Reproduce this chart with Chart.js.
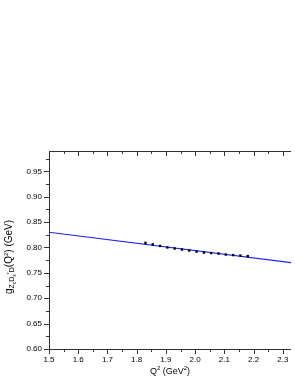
<!DOCTYPE html>
<html>
<head>
<meta charset="utf-8">
<script src="https://cdn.jsdelivr.net/npm/chart.js@4"></script>
<style>
  html, body { margin: 0; padding: 0; background: #fff; }
  #wrap { width: 295px; height: 382px; position: relative; }
</style>
</head>
<body>
<div id="wrap"><canvas id="chart"></canvas></div>
<script>
// data
const q2Points = [1.83, 1.855, 1.88, 1.905, 1.93, 1.955, 1.98, 2.005, 2.03, 2.055, 2.08, 2.105, 2.13, 2.155, 2.18];
const gPoints = [0.809, 0.806, 0.803, 0.800, 0.798, 0.796, 0.794, 0.792, 0.790, 0.789, 0.788, 0.786, 0.785, 0.784, 0.783];
const fitQ2 = [1.5, 2.33];
const fitG = [0.830, 0.7698];
const xTicks = [1.5, 1.6, 1.7, 1.8, 1.9, 2.0, 2.1, 2.2, 2.3];
const yTicks = [0.60, 0.65, 0.70, 0.75, 0.80, 0.85, 0.90, 0.95];

const X_MIN = 1.5, X_MAX = 2.328;
const Y_MIN = 0.60, Y_MAX = 0.99;
const AXIS = '#333';
const FONT = '"Liberation Sans", Arial, sans-serif';

// draws Origin-style axes, ticks, labels and titles
const axesPlugin = {
    id: 'originAxes',
    afterDraw(chart) {
        const ctx = chart.ctx;
        const { left, right, top, bottom } = chart.chartArea;
        const xs = chart.scales.x, ys = chart.scales.y;
        ctx.save();
        ctx.strokeStyle = AXIS;
        ctx.lineWidth = 1;

        // frame: left, bottom, top (right edge is cut off)
        ctx.beginPath();
        ctx.moveTo(left + 0.5, top);
        ctx.lineTo(left + 0.5, bottom + 0.5);
        ctx.lineTo(right, bottom + 0.5);
        ctx.moveTo(left, top + 0.5);
        ctx.lineTo(right, top + 0.5);
        ctx.stroke();

        const xMinor = [];
        for (let i = 0; i < xTicks.length; i++) {
            const m = xTicks[i] + 0.05;
            if (m <= X_MAX) xMinor.push(m);
        }
        const yMinor = [];
        for (let i = 0; i < yTicks.length; i++) {
            const m = yTicks[i] + 0.025;
            if (m <= Y_MAX) yMinor.push(m);
        }

        ctx.beginPath();
        xTicks.forEach(v => {
            const px = Math.round(xs.getPixelForValue(v)) + 0.5;
            ctx.moveTo(px, bottom); ctx.lineTo(px, bottom + 5);
            ctx.moveTo(px, top); ctx.lineTo(px, top + 5);
        });
        xMinor.forEach(v => {
            const px = Math.round(xs.getPixelForValue(v)) + 0.5;
            ctx.moveTo(px, bottom); ctx.lineTo(px, bottom + 3);
            ctx.moveTo(px, top); ctx.lineTo(px, top + 3);
        });
        yTicks.forEach(v => {
            const py = Math.round(ys.getPixelForValue(v)) + 0.5;
            ctx.moveTo(left, py); ctx.lineTo(left - 5, py);
        });
        yMinor.forEach(v => {
            const py = Math.round(ys.getPixelForValue(v)) + 0.5;
            ctx.moveTo(left, py); ctx.lineTo(left - 3, py);
        });
        ctx.stroke();

        // tick labels
        ctx.fillStyle = '#000';
        ctx.font = '8px ' + FONT;
        ctx.textAlign = 'center';
        ctx.textBaseline = 'alphabetic';
        xTicks.forEach(v => ctx.fillText(v.toFixed(1), xs.getPixelForValue(v), bottom + 13));
        ctx.textAlign = 'right';
        ctx.textBaseline = 'middle';
        yTicks.forEach(v => ctx.fillText(v.toFixed(2), left - 7, ys.getPixelForValue(v)));

        // titles with sub/superscripts
        const parts = (list, base) => list.map(p => Object.assign({ dy: 0, size: base }, p));
        const drawRich = (items, cx, cy) => {
            let w = 0;
            items.forEach(it => { ctx.font = it.size + 'px ' + FONT; it.w = ctx.measureText(it.t).width; w += it.w; });
            let x = cx - w / 2;
            ctx.textAlign = 'left';
            ctx.textBaseline = 'alphabetic';
            items.forEach(it => {
                ctx.font = it.size + 'px ' + FONT;
                ctx.fillText(it.t, x, cy + it.dy);
                x += it.w;
            });
        };

        drawRich(parts([
            { t: 'Q' }, { t: '2', size: 6, dy: -4 },
            { t: ' (GeV' }, { t: '2', size: 6, dy: -4 }, { t: ')' }
        ], 9), (left + right) / 2, bottom + 25);

        ctx.save();
        ctx.translate(12, 257);
        ctx.rotate(-Math.PI / 2);
        drawRich(parts([
            { t: 'g' },
            { t: 'Z', size: 7, dy: 2 }, { t: 'c', size: 5, dy: 4 },
            { t: 'D', size: 7, dy: 2 }, { t: 's', size: 5, dy: 4 }, { t: '*', size: 5, dy: -1 },
            { t: 'D', size: 7, dy: 2 },
            { t: '(Q' }, { t: '2', size: 6, dy: -4 }, { t: ') (GeV)' }
        ], 10), 0, 0);
        ctx.restore();

        ctx.restore();
    }
};

new Chart(document.getElementById('chart'), {
    type: 'scatter',
    data: {
        datasets: [
            {
                type: 'line',
                label: 'fit',
                data: fitQ2.map((x, i) => ({ x, y: fitG[i] })),
                borderColor: '#2020ff',
                borderWidth: 1.2,
                pointRadius: 0,
                fill: false,
                order: 2
            },
            {
                label: 'points',
                data: q2Points.map((x, i) => ({ x, y: gPoints[i] })),
                backgroundColor: '#000',
                borderColor: '#000',
                borderWidth: 0,
                pointStyle: 'rect',
                pointRadius: 1.7,
                order: 1
            }
        ]
    },
    options: {
        responsive: true,
        maintainAspectRatio: false,
        animation: false,
        layout: { padding: { left: 49, top: 151, right: 0, bottom: 33 } },
        scales: {
            x: { type: 'linear', min: X_MIN, max: X_MAX, display: false },
            y: { type: 'linear', min: Y_MIN, max: Y_MAX, display: false }
        },
        plugins: {
            legend: { display: false },
            tooltip: { enabled: false }
        }
    },
    plugins: [axesPlugin]
});
</script>
</body>
</html>
